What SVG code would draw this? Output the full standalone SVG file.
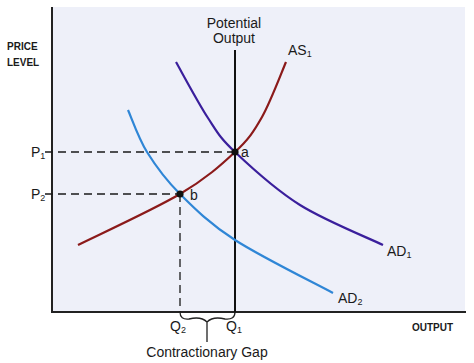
<svg xmlns="http://www.w3.org/2000/svg" width="474" height="363" viewBox="0 0 474 363">
<style>
text{font-family:"Liberation Sans",Arial,sans-serif;fill:#1a1a1a}
.ax{font-weight:bold;font-size:10px}
.lb{font-size:14px}
.sub{font-size:9px}
.dash{stroke:#1a1a1a;stroke-width:1.3;stroke-dasharray:8,5;fill:none}
.curve{fill:none;stroke-width:2.2}
</style>
<rect x="52" y="7" width="413" height="305" fill="#eef0f9"/>
<g id="axes" stroke="#222" stroke-width="2" fill="none">
<line x1="52" y1="7" x2="52" y2="313"/>
<line x1="51" y1="312" x2="466" y2="312"/>
</g>
<g id="connectors">
<line class="dash" x1="45" y1="152" x2="235" y2="152"/>
<line class="dash" x1="45" y1="194" x2="180" y2="194"/>
<line class="dash" x1="180" y1="194" x2="180" y2="312"/>
<line x1="235" y1="50" x2="235" y2="313" stroke="#111" stroke-width="2"/>
<path id="as1" class="curve" stroke="#8b1a1a" d="M78,245 C95,236.5 153.8,209.5 180,194 C206.2,178.5 221.3,164.8 235,152 C248.7,139.2 253.5,132 262,117 C270.5,102 282,71.2 286,62"/>
<path id="ad1" class="curve" stroke="#3a1f9c" d="M176,62 C181.3,71.3 198.2,103 208,118 C217.8,133 219.7,137.5 235,152 C250.3,166.5 275.3,189.5 300,205 C324.7,220.5 369.2,238.3 383,245"/>
<path id="ad2" class="curve" stroke="#2f86d6" d="M128,110 C131.2,117 138.3,138 147,152 C155.7,166 165.3,179.3 180,194 C194.7,208.7 209.5,223.5 235,240 C260.5,256.5 316.7,284.2 333,293"/>
<path id="brace" fill="none" stroke="#222" stroke-width="1.3" d="M180,312 Q180,320 189,319 Q201,316 207,322 Q213,316 225,319 Q235,320 235,312 M207,321 L207,342"/>
</g>
<g id="point-a"><circle cx="235" cy="152" r="3.6" fill="#111"/><text class="lb" x="241" y="157">a</text></g>
<g id="point-b"><circle cx="180" cy="194" r="3.6" fill="#111"/><text class="lb" x="190" y="200">b</text></g>
<g id="label-y"><text class="ax" x="7" y="50">PRICE</text><text class="ax" x="7" y="66">LEVEL</text></g>
<g id="label-x"><text class="ax" x="412" y="331">OUTPUT</text></g>
<g id="label-potential"><text class="lb" x="234" y="28" text-anchor="middle">Potential</text><text class="lb" x="234" y="43" text-anchor="middle">Output</text></g>
<g id="label-as1"><text class="lb" x="288" y="55">AS<tspan class="sub" dy="2">1</tspan></text></g>
<g id="label-ad1"><text class="lb" x="387" y="256">AD<tspan class="sub" dy="2">1</tspan></text></g>
<g id="label-ad2"><text class="lb" x="338" y="303">AD<tspan class="sub" dy="2">2</tspan></text></g>
<g id="label-p1"><text class="lb" x="31" y="157">P<tspan class="sub" dy="2">1</tspan></text></g>
<g id="label-p2"><text class="lb" x="31" y="199">P<tspan class="sub" dy="2">2</tspan></text></g>
<g id="label-q2"><text class="lb" x="170" y="331">Q<tspan class="sub" dy="2">2</tspan></text></g>
<g id="label-q1"><text class="lb" x="226" y="331">Q<tspan class="sub" dy="2">1</tspan></text></g>
<g id="label-gap"><text class="lb" x="207" y="357" text-anchor="middle">Contractionary Gap</text></g>
</svg>
